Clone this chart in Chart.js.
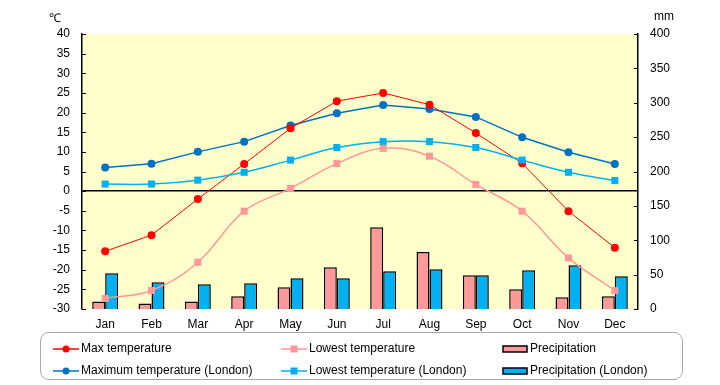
<!DOCTYPE html>
<html>
<head>
<meta charset="utf-8">
<script src="https://cdn.jsdelivr.net/npm/chart.js@4"></script>
<style>
  body { margin: 0; background: #fff; font-family: "Liberation Sans", Arial, sans-serif; }
  #wrap { position: relative; width: 720px; height: 385px; }
  #chart { position: absolute; left: 0; top: 0; }
  .unit { position: absolute; font-size: 12px; color: #000; }
  #legend {
    position: absolute; left: 40px; top: 332px; width: 643px; height: 48px;
    border: 1px solid #aaa; border-radius: 9px; box-sizing: border-box; font-size: 12px;
  }
  .item { position: absolute; height: 14px; line-height: 14px; white-space: nowrap; }
  .item canvas { vertical-align: middle; margin-right: 2px; }
</style>
</head>
<body>
<div id="wrap">
  <canvas id="chart" width="720" height="385"></canvas>
  <span class="unit" style="left:49px;top:9px">℃</span>
  <span class="unit" style="left:654px;top:9px">mm</span>
  <div id="legend"></div>
</div>
<script>
const months = ['Jan', 'Feb', 'Mar', 'Apr', 'May', 'Jun', 'Jul', 'Aug', 'Sep', 'Oct', 'Nov', 'Dec'];

// temperatures (℃)
const maxTemp = [-15.3, -11.2, -2, 6.9, 16, 22.9, 25, 22, 14.8, 7.1, -5.1, -14.4];
const minTemp = [-27.3, -25.3, -18.1, -5.1, 0.7, 7, 10.9, 8.9, 1.7, -5.1, -17, -25.3];
const maxTempLondon = [6, 7, 10, 12.6, 16.7, 19.8, 21.9, 20.9, 18.9, 13.7, 9.9, 6.9];
const minTempLondon = [1.8, 1.8, 2.8, 4.8, 7.9, 11.1, 12.6, 12.6, 11.1, 7.9, 4.8, 2.7];

// precipitation (mm)
const precip = [11, 8, 11, 18.5, 31.5, 60.6, 119, 83, 49, 28.6, 17, 18.5];
const precipLondon = [52, 39, 36, 37.4, 44.6, 44.6, 54.8, 57.7, 49, 56.3, 63.6, 47.6];

const tempTicks = [-30, -25, -20, -15, -10, -5, 0, 5, 10, 15, 20, 25, 30, 35, 40];
const mmTicks = [0, 50, 100, 150, 200, 250, 300, 350, 400];

const FONT = { family: '"Liberation Sans", Arial, sans-serif', size: 12 };

// yellow plot background
const plotBg = {
  id: 'plotBg',
  beforeDraw(chart) {
    const { ctx, chartArea: a } = chart;
    ctx.save();
    ctx.fillStyle = '#FFFFCC';
    ctx.fillRect(a.left, a.top, a.right - a.left, a.bottom - a.top);
    ctx.restore();
  }
};

// short tick marks pointing into the plot
const innerTicks = {
  id: 'innerTicks',
  afterDatasetsDraw(chart) {
    const { ctx, chartArea: a, scales } = chart;
    ctx.save();
    ctx.strokeStyle = '#000';
    ctx.lineWidth = 1;
    ctx.beginPath();
    tempTicks.forEach(v => {
      const y = Math.round(scales.y.getPixelForValue(v)) + 0.5;
      ctx.moveTo(a.left, y); ctx.lineTo(a.left + 4, y);
    });
    mmTicks.forEach(v => {
      const y = Math.round(scales.y1.getPixelForValue(v)) + 0.5;
      ctx.moveTo(a.right - 4, y); ctx.lineTo(a.right, y);
    });
    ctx.stroke();
    ctx.restore();
  }
};

const lineDs = (label, data, color, style, radius, width, tension) => ({
  type: 'line', label, data, yAxisID: 'y', order: 1,
  borderColor: color, backgroundColor: color, borderWidth: width,
  pointStyle: style, pointRadius: radius, pointBorderWidth: 0, tension
});

const barDs = (label, data, color) => ({
  type: 'bar', label, data, yAxisID: 'y1', order: 2,
  backgroundColor: color, borderColor: '#000', borderWidth: 1.5,
  categoryPercentage: 0.56, barPercentage: 1.0
});

const datasets = [
  barDs('Precipitation', precip, '#FF9999'),
  barDs('Precipitation (London)', precipLondon, '#00B0F0'),
  lineDs('Lowest temperature', minTemp, '#FF9999', 'rect', 5, 1.5, 0.4),
  lineDs('Lowest temperature (London)', minTempLondon, '#00B0F0', 'rect', 5, 1.5, 0.4),
  lineDs('Max temperature', maxTemp, '#FF0000', 'circle', 4, 1, 0),
  lineDs('Maximum temperature (London)', maxTempLondon, '#0070C0', 'circle', 4, 1.5, 0)
];

new Chart(document.getElementById('chart'), {
  data: { labels: months, datasets },
  plugins: [plotBg, innerTicks],
  options: {
    responsive: false,
    animation: false,
    layout: { padding: { top: 34, left: 0, right: 0, bottom: 0 } },
    plugins: { legend: { display: false }, tooltip: { enabled: false } },
    scales: {
      x: {
        grid: { display: false, drawTicks: false },
        border: { display: false },
        ticks: { color: '#000', font: FONT, padding: 8, maxRotation: 0 },
        afterFit(s) { s.height = 76; }
      },
      y: {
        position: 'left', min: -30, max: 40,
        afterBuildTicks(s) { s.ticks = tempTicks.map(v => ({ value: v })); },
        grid: {
          drawTicks: false,
          color: c => (c.tick && c.tick.value === 0 ? '#000' : 'rgba(0,0,0,0)'),
          lineWidth: 1.5
        },
        border: { display: true, color: '#000', width: 1.5 },
        ticks: { color: '#000', font: FONT, padding: 12 },
        afterFit(s) { s.width = 82; }
      },
      y1: {
        position: 'right', min: 0, max: 400,
        afterBuildTicks(s) { s.ticks = mmTicks.map(v => ({ value: v })); },
        grid: { display: false, drawTicks: false },
        border: { display: true, color: '#000', width: 1.5 },
        ticks: { color: '#000', font: FONT, padding: 12 },
        afterFit(s) { s.width = 82; }
      }
    }
  }
});

// html legend
const legendItems = [
  { label: 'Max temperature', color: '#FF0000', kind: 'circle', x: 12, y: 8 },
  { label: 'Maximum temperature (London)', color: '#0070C0', kind: 'circle', x: 12, y: 30 },
  { label: 'Lowest temperature', color: '#FF9999', kind: 'rect', x: 240, y: 8 },
  { label: 'Lowest temperature (London)', color: '#00B0F0', kind: 'rect', x: 240, y: 30 },
  { label: 'Precipitation', color: '#FF9999', kind: 'bar', x: 461, y: 8 },
  { label: 'Precipitation (London)', color: '#00B0F0', kind: 'bar', x: 461, y: 30 }
];
const legend = document.getElementById('legend');
legendItems.forEach(it => {
  const div = document.createElement('div');
  div.className = 'item';
  div.style.left = it.x + 'px';
  div.style.top = it.y + 'px';
  const c = document.createElement('canvas');
  c.width = 26; c.height = 12;
  const g = c.getContext('2d');
  if (it.kind === 'bar') {
    g.fillStyle = it.color;
    g.fillRect(1, 3, 24, 6);
    g.strokeStyle = '#000'; g.lineWidth = 1.5;
    g.strokeRect(1, 3, 24, 6);
  } else {
    g.strokeStyle = it.color; g.lineWidth = 1.5;
    g.beginPath(); g.moveTo(0, 6); g.lineTo(26, 6); g.stroke();
    g.fillStyle = it.color;
    if (it.kind === 'circle') { g.beginPath(); g.arc(13, 6, 3.5, 0, Math.PI * 2); g.fill(); }
    else g.fillRect(9.5, 2.5, 7, 7);
  }
  div.appendChild(c);
  div.appendChild(document.createTextNode(it.label));
  legend.appendChild(div);
});
</script>
</body>
</html>
